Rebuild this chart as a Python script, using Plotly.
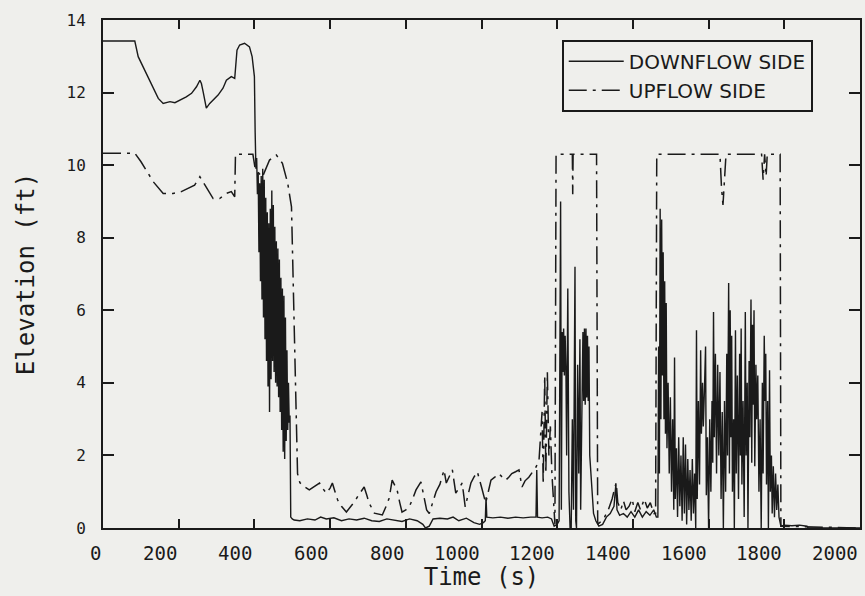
import plotly.graph_objects as go

# ---------------- DOWNFLOW SIDE (solid) ----------------
down_t_1 = [0, 84, 93, 106, 119, 133, 146, 159, 177, 190, 203, 212, 220, 234, 247, 256, 260, 265, 269, 273,
            282, 291, 298, 304, 317, 326, 339, 348, 354, 361, 374, 387, 394, 400]
down_v_1 = [13.42, 13.42, 12.99, 12.71, 12.44, 12.12, 11.84, 11.70, 11.75, 11.72, 11.79, 11.85, 11.88, 11.98,
            12.16, 12.34, 12.25, 12.0, 11.79, 11.57, 11.70, 11.79, 11.85, 11.93, 12.12, 12.34, 12.44, 12.39,
            13.17, 13.31, 13.36, 13.26, 12.99, 12.44]

down_t_2 = [402, 404, 406, 408, 410, 412, 414, 416, 418, 420, 422, 424, 426, 428, 430, 432, 434, 436, 438, 440,
            442, 444, 446, 448, 450, 452, 454, 456, 458, 460, 462, 464, 466, 468, 470, 472, 474, 476, 478, 480,
            482, 484, 486, 488, 490, 492, 494, 496]
down_v_2 = [10.9, 9.9, 10.2, 9.2, 9.8, 7.6, 9.5, 6.8, 9.7, 6.3, 9.9, 5.8, 9.6, 5.2, 9.1, 4.6, 8.7, 3.9, 8.4, 3.2,
            8.8, 4.1, 9.3, 4.6, 8.9, 4.3, 8.3, 4.0, 7.9, 3.9, 7.7, 3.6, 7.4, 3.2, 6.9, 2.7, 6.6, 2.1, 6.4, 1.9,
            5.8, 2.4, 4.9, 2.7, 4.0, 2.9, 3.1, 0.3]

down_t_3 = [500, 505, 520, 540, 560, 575, 590, 610, 630, 650, 670, 690, 710, 730, 750, 770, 790, 810, 830, 845,
            852, 862, 872, 890, 910, 925, 940, 960, 980, 995, 1005, 1010, 1012, 1014, 1030, 1050, 1070, 1090,
            1110, 1130, 1144, 1146, 1148, 1160, 1175, 1185, 1192]
down_v_3 = [0.25, 0.22, 0.2, 0.25, 0.22, 0.3, 0.25, 0.28, 0.2, 0.25, 0.22, 0.27, 0.2, 0.18, 0.25, 0.22, 0.18,
            0.25, 0.2, 0.1, 0.0, 0.05, 0.25, 0.27, 0.25, 0.3, 0.2, 0.27, 0.15, 0.1, 0.15, 0.2, 0.85, 0.3, 0.28,
            0.3, 0.27, 0.3, 0.28, 0.3, 0.3, 1.6, 0.3, 0.28, 0.3, 0.25, 0.05]

down_t_4 = [1200, 1205, 1209, 1211, 1213, 1215, 1217, 1219, 1221, 1223, 1225, 1228, 1231, 1234, 1237, 1240,
            1243, 1247, 1249, 1251, 1254, 1257, 1260, 1262, 1265, 1268, 1270, 1272, 1274, 1276, 1278, 1280,
            1282, 1284, 1286, 1289, 1292, 1296, 1302, 1310]
down_v_4 = [0.1, 0.2, 9.0, 0.5, 5.4, 4.3, 5.5, 4.2, 5.3, 4.4, 2.0, 6.6, 1.0, 0.0, 0.0, 3.0, 0.5, 7.2, 0.2, 0.0,
            4.5, 1.5, 5.2, 0.5, 3.0, 5.4, 3.5, 5.5, 3.4, 5.5, 3.6, 5.3, 3.5, 5.0, 2.0, 1.4, 1.0, 0.4, 0.2, 0.05]

down_t_5 = [1320, 1330, 1340, 1350, 1355, 1358, 1365, 1375, 1385, 1395, 1405, 1415, 1425, 1435, 1445, 1455, 1462]
down_v_5 = [0.1, 0.3, 0.4, 0.6, 1.2, 0.5, 0.35, 0.4, 0.3, 0.45, 0.3, 0.5, 0.3, 0.45, 0.35, 0.5, 0.3]

down_t_6 = [1466, 1468, 1470, 1472, 1474, 1476, 1478, 1480, 1482, 1484, 1486, 1488, 1490, 1493, 1496, 1499,
            1502, 1505, 1508, 1510, 1512, 1515, 1518, 1521, 1524, 1527, 1530, 1533, 1536, 1539, 1542, 1545,
            1548, 1551, 1554, 1557, 1560, 1563, 1566, 1568, 1570, 1573, 1576, 1579, 1581, 1584, 1586, 1589,
            1592, 1594, 1597, 1600, 1603, 1606, 1609, 1611, 1613, 1615, 1618, 1621, 1624, 1627, 1630, 1633,
            1636, 1639, 1642, 1645, 1648, 1650, 1653, 1655, 1657, 1659, 1661, 1663, 1666, 1668, 1671, 1673,
            1676, 1679, 1682, 1684, 1686, 1688, 1691, 1694, 1697, 1699, 1702, 1704, 1707, 1709, 1712, 1714,
            1716, 1718, 1720, 1722, 1725, 1727, 1730, 1733, 1736, 1739, 1742, 1744, 1747, 1749, 1751, 1753,
            1756, 1758, 1761, 1763, 1766, 1768, 1771, 1774, 1777, 1780, 1783, 1786, 1789, 1791, 1800, 1820,
            1840, 1860, 1863, 2000]
down_v_6 = [0.3, 5.0, 1.5, 8.8, 3.0, 8.5, 4.2, 7.6, 3.0, 6.8, 2.6, 6.2, 2.2, 4.0, 1.5, 3.6,
            1.0, 3.0, 0.5, 4.7, 0.8, 2.2, 0.3, 2.5, 0.6, 2.0, 0.2, 2.5, 0.4, 2.3, 0.1, 1.9,
            0.5, 1.6, 0.2, 1.9, 0.4, 1.5, 0.0, 5.45, 0.8, 3.5, 1.2, 4.9, 2.6, 4.0, 2.8, 3.8,
            5.0, 0.9, 2.5, 0.0, 3.0, 1.0, 3.5, 1.8, 5.95, 2.5, 4.8, 1.5, 4.5, 2.0, 4.3, 0.8,
            3.2, 0.0, 3.5, 1.0, 4.8, 2.0, 6.75, 1.5, 6.0, 2.5, 5.3, 1.0, 3.0, 0.0, 5.45, 1.5,
            4.2, 0.8, 4.8, 2.0, 5.5, 1.2, 3.5, 0.3, 5.95, 2.0, 4.0, 0.0, 4.6, 2.5, 6.3, 1.8,
            5.6, 3.4, 6.0, 1.7, 4.5, 3.0, 4.2, 1.0, 3.0, 0.0, 4.0, 1.5, 5.3, 3.5, 4.8, 1.2,
            3.5, 0.0, 4.35, 1.0, 2.0, 0.4, 1.7, 0.3, 1.5, 0.5, 1.2, 0.3, 0.1, 0.05, 0.08, 0.06,
            0.08, 0.05, 0.0, 0.0]

# ---------------- UPFLOW SIDE (dash-dot) ----------------
up_t_1 = [0, 84, 100, 115, 133, 159, 185, 207, 225, 242, 256, 264, 277, 291, 308, 326, 339, 348, 350, 396,
          402, 421, 440, 458, 474, 488, 498, 501, 506, 511, 514]
up_v_1 = [10.33, 10.33, 10.1, 9.86, 9.54, 9.22, 9.22, 9.27, 9.36, 9.45, 9.68, 9.54, 9.31, 9.08, 9.08, 9.22,
          9.27, 9.13, 10.3, 10.3, 9.9, 9.67, 10.14, 10.28, 10.05, 9.5, 8.85, 7.5, 5.2, 3.3, 1.5]

up_t_2 = [520, 530, 545, 560, 572, 580, 590, 600, 606, 613, 620, 630, 643, 655, 664, 678, 690, 697, 703, 717,
          730, 738, 748, 756, 764, 770, 777, 784, 790, 800, 809, 818, 827, 840, 848, 855, 862, 870, 880, 890,
          901, 907, 915, 923, 932, 940, 949, 957, 965, 972, 980, 989, 1000, 1011, 1018, 1025, 1035, 1046,
          1055, 1064, 1072, 1080, 1090, 1099, 1107, 1115, 1125, 1135, 1144, 1152, 1160, 1163, 1167, 1170,
          1174, 1178, 1182, 1186, 1190, 1194]
up_v_2 = [1.25, 1.15, 1.05, 1.15, 1.24, 1.1, 0.96, 1.1, 1.24, 1.0, 0.77, 0.6, 0.44, 0.6, 0.72, 0.95, 1.13, 0.9,
          0.69, 0.41, 0.38, 0.36, 0.6, 0.82, 1.32, 1.2, 1.05, 0.7, 0.44, 0.5, 0.58, 0.8, 1.05, 1.27, 0.9, 0.5,
          0.4, 0.7, 1.0, 1.2, 1.6, 1.24, 1.4, 1.6, 0.96, 1.1, 1.24, 0.58, 0.9, 1.24, 1.4, 1.55, 1.13, 0.69,
          1.0, 1.32, 1.4, 1.5, 1.4, 1.32, 1.4, 1.5, 1.55, 1.6, 1.13, 1.3, 1.4, 1.55, 1.68, 1.87, 3.2, 1.2,
          4.2, 1.5, 4.3, 2.0, 2.8, 1.5, 0.8, 0.1]

up_t_3 = [1197, 1240, 1241, 1242, 1304, 1307, 1318, 1325, 1335, 1345, 1352, 1356, 1360, 1368, 1375, 1382,
          1390, 1398, 1405, 1413, 1420, 1430, 1438, 1446, 1455, 1460, 1463, 1630, 1634, 1638, 1642, 1646,
          1740, 1744, 1748, 1752, 1755, 1789, 1791, 2000]
up_v_3 = [10.3, 10.3, 9.2, 10.3, 10.3, 0.1, 0.2, 0.3, 0.5, 0.8, 1.1, 1.25, 0.7, 0.5, 0.75, 0.5,
          0.6, 0.8, 0.45, 0.7, 0.5, 0.8, 0.55, 0.7, 0.4, 0.4, 10.3, 10.3, 9.4, 8.9, 9.6, 10.3,
          10.3, 9.6, 10.3, 9.7, 10.3, 10.3, 0.05, 0.0]

down_t = down_t_1 + down_t_2 + down_t_3 + down_t_4 + down_t_5 + down_t_6
down_v = down_v_1 + down_v_2 + down_v_3 + down_v_4 + down_v_5 + down_v_6
up_t = up_t_1 + up_t_2 + up_t_3
up_v = up_v_1 + up_v_2 + up_v_3

x_tick_vals = [0, 200, 400, 600, 800, 1000, 1200, 1400, 1600, 1800, 2000]
x_tick_text = ["0", "200", "400", "600", "800", "1000", "1200", "1400", "1600", "1800", "2000"]
y_tick_vals = [0, 2, 4, 6, 8, 10, 12, 14]

MONO = "DejaVu Sans Mono"
SANS = "DejaVu Sans"
INK = "#1a1a1a"
BG = "#efefec"

fig = go.Figure()
fig.add_trace(go.Scatter(x=down_t, y=down_v, mode="lines", name="DOWNFLOW SIDE",
                         line=dict(color=INK, width=1.4)))
fig.add_trace(go.Scatter(x=up_t, y=up_v, mode="lines", name="UPFLOW SIDE",
                         line=dict(color=INK, width=1.5, dash="18px,6px,3px,6px")))

# x tick labels: the original plotter right-aligns each label at its tick
for v, txt in zip(x_tick_vals, x_tick_text):
    fig.add_annotation(x=v, xref="x", y=0, yref="paper", text=txt, showarrow=False,
                       xanchor="right", yanchor="top", yshift=-12,
                       font=dict(family=MONO, size=19, color=INK))

fig.update_layout(
    width=865, height=596,
    margin=dict(l=103, r=3, t=20, b=68),
    paper_bgcolor=BG, plot_bgcolor=BG,
    showlegend=True,
    legend=dict(x=0.606, y=0.961, xanchor="left", yanchor="top",
                bgcolor=BG, bordercolor=INK, borderwidth=2,
                font=dict(family=SANS, size=20, color=INK),
                itemwidth=55, tracegroupgap=0),
    font=dict(family=MONO, color=INK),
)
fig.update_xaxes(range=[0, 2000], tickvals=x_tick_vals, showticklabels=False,
                 ticks="inside", ticklen=9, tickwidth=1.5, tickcolor=INK,
                 showline=True, linecolor=INK, linewidth=2, mirror="ticks",
                 showgrid=False, zeroline=False,
                 title=dict(text="Time (s)", font=dict(family=MONO, size=24, color=INK), standoff=39))
fig.update_yaxes(range=[0, 14], tickvals=y_tick_vals,
                 ticks="inside", ticklen=11, tickwidth=1.5, tickcolor=INK,
                 tickfont=dict(family=MONO, size=16, color=INK), ticklabelstandoff=12,
                 showline=True, linecolor=INK, linewidth=2, mirror="ticks",
                 showgrid=False, zeroline=False,
                 title=dict(text="Elevation (ft)", font=dict(family=MONO, size=24, color=INK), standoff=25))

fig.write_html("out.html")
